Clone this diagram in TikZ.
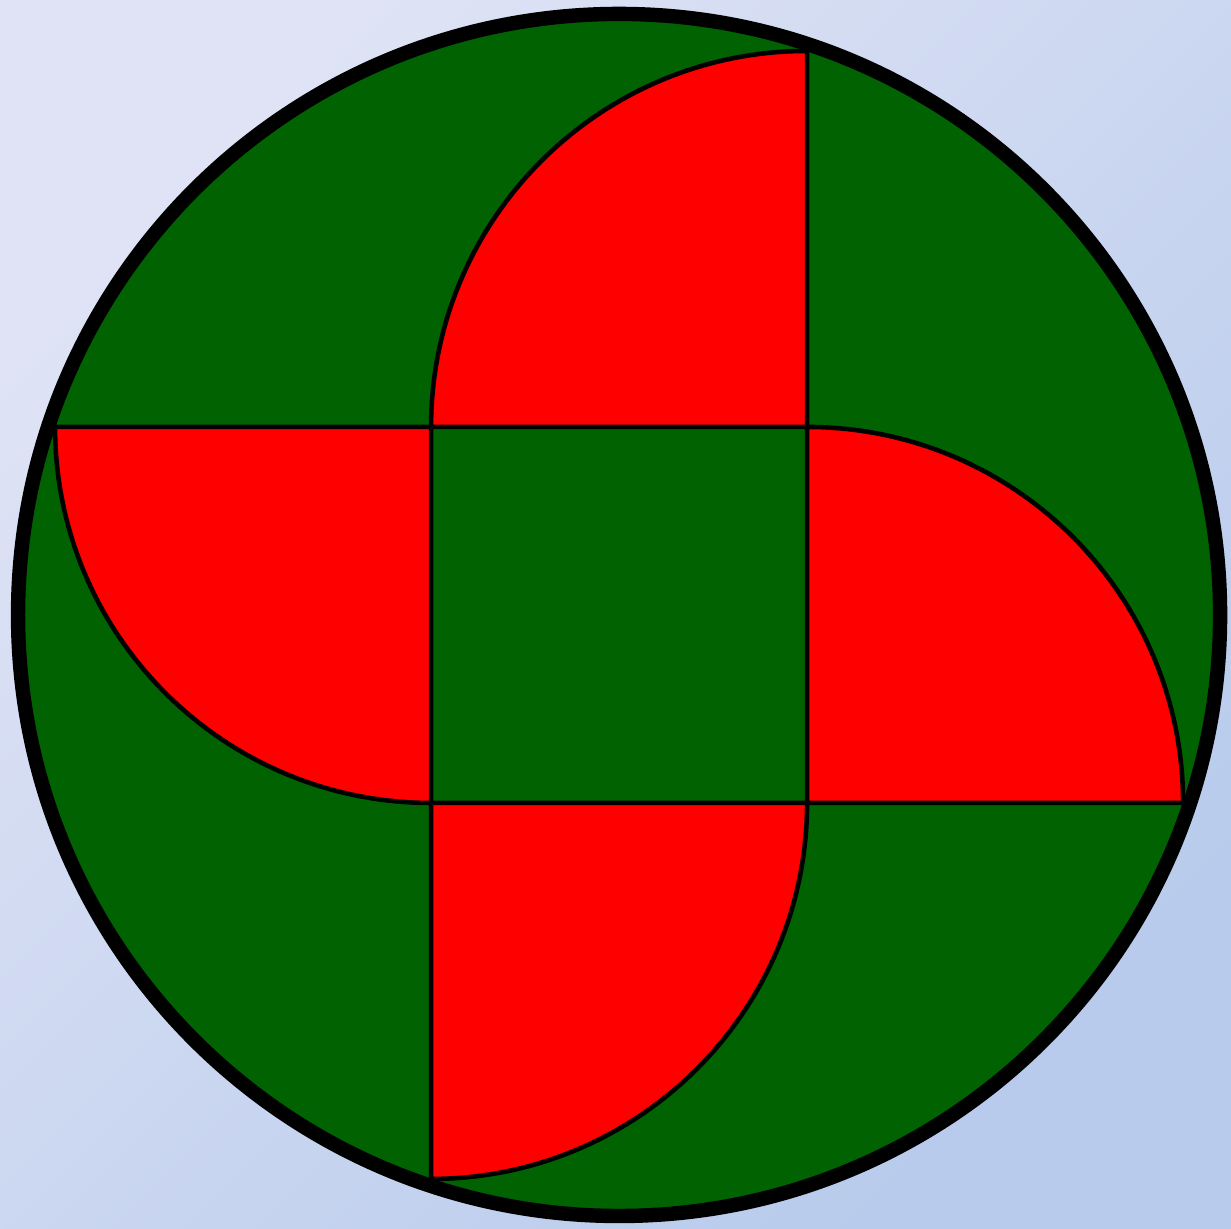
\documentclass[tikz,border=0pt]{standalone}
\usepackage{xcolor}
\usepackage{tikz}
\definecolor{skylight}{RGB}{223, 227, 245}
\definecolor{skydeep}{RGB}{184, 203, 236}
\definecolor{leafgreen}{RGB}{0, 98, 0}
\definecolor{petalred}{RGB}{255, 0, 0}
\tikzset{
    ring/.style  ={draw=black, line width=4.1pt, fill=leafgreen},
    petal/.style ={draw=black, line width=1.3pt, fill=petalred, line join=round},
    core/.style  ={draw=black, line width=1.3pt, fill=leafgreen}
}

\begin{document}
\begin{tikzpicture}[x=1.88cm, y=1.88cm]
  % backdrop
  \shade[top color=skylight, bottom color=skydeep, shading angle=45]
    (-3.293,-3.266) rectangle (3.255,3.271);
  \useasboundingbox (-3.293,-3.266) rectangle (3.255,3.271);

  % outer disc
  \draw[ring] (0,0) circle[radius=3.197];

  % centre square
  \draw[core] (-1,-1) rectangle (1,1);

  % four quarter petals
  \foreach \a in {0,90,180,270}{
    \draw[petal, rotate=-\a] (1,1) -- (-1,1) arc[start angle=180, end angle=90, radius=2] -- cycle;
  }
\end{tikzpicture}
\end{document}
